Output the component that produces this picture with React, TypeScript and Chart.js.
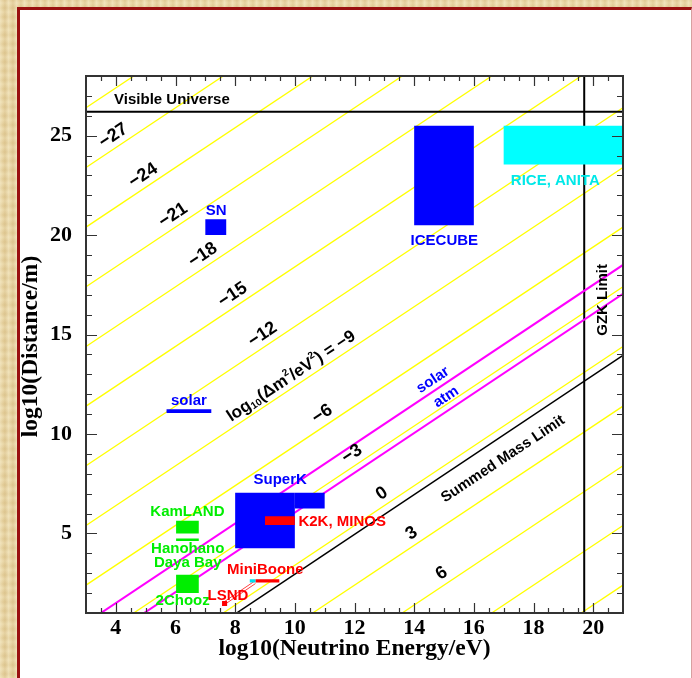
import React, { useEffect, useRef } from 'react';
import { Chart, registerables } from 'chart.js';

Chart.register(...registerables);

// ---------- axes ----------
const X_MIN = 3;
const X_MAX = 21;
const Y_MIN = 1;
const Y_MAX = 28;
const xLabelStep = 2;
const yLabelStep = 5;
const xTitle = 'log10(Neutrino Energy/eV)';
const yTitle = 'log10(Distance/m)';

// ---------- contour lines: log10(L) = log10(E) + offset ----------
const yellowOffsets = [23.4, 20.4, 17.4, 14.4, 11.4, 8.4, 5.4, 2.4, -0.6, -3.6, -6.6, -9.6, -12.6, -15.6, -18.6];
const solarOffset = -2.5;
const atmOffset = -3.95;
const massLimitOffset = -7.05;
const visibleUniverseL = 26.2;
const gzkLimitE = 19.7;

// ---------- Δm² contour labels ----------
const dm2Values = [-27, -24, -21, -18, -15, -12, -9, -6, -3, 0, 3, 6];
const dm2LabelE = [3.92, 4.92, 5.92, 6.92, 7.92, 8.92, 9.88, 10.92, 11.92, 12.92, 13.92, 14.92];
const dm2LabelL = [25.0, 23.0, 21.0, 19.0, 17.0, 15.0, 12.9, 11.0, 9.0, 7.0, 5.0, 3.0];

// ---------- experiment boxes ----------
const boxNames = ['SN', 'ICECUBE', 'RICE, ANITA', 'solar', 'SuperK', 'SuperK high', 'K2K, MINOS', 'KamLAND', 'Hanohano', '2Chooz', 'MiniBoone', 'MiniBoone low', 'LSND'];
const boxEMin = [7.0, 14.0, 17.0, 5.7, 8.0, 10.0, 9.0, 6.02, 6.02, 6.02, 8.68, 8.49, 7.56];
const boxEMax = [7.7, 16.0, 21.0, 7.2, 10.0, 11.0, 10.0, 6.78, 6.78, 6.78, 9.48, 8.68, 7.73];
const boxLMin = [20.0, 20.5, 23.55, 11.05, 4.25, 6.25, 5.42, 5.0, 4.62, 2.0, 2.53, 2.53, 1.35];
const boxLMax = [20.8, 25.5, 25.5, 11.25, 7.05, 7.05, 5.86, 5.64, 4.75, 2.92, 2.7, 2.7, 1.6];
const boxColors = ['#0000ff', '#0000ff', '#00ffff', '#0000ff', '#0000ff', '#0000ff', '#ff0000', '#00ee00', '#00ee00', '#00ee00', '#ff0000', '#00e0f0', '#ff0000'];

// LSND band (thin red lines)
const lsndBandE = [7.62, 8.68];
const lsndBandL = [1.45, 2.53];

// ---------- text annotations ----------
const annTexts = ['Visible Universe', 'SN', 'ICECUBE', 'RICE, ANITA', 'solar', 'SuperK', 'K2K, MINOS', 'KamLAND', 'Hanohano', 'Daya Bay', '2Chooz', 'MiniBoone', 'LSND', 'GZK Limit', 'Summed Mass Limit', 'solar', 'atm'];
const annE = [5.88, 7.36, 15.01, 18.73, 6.45, 9.51, 10.12, 6.40, 6.41, 6.41, 6.24, 9.01, 7.76, 20.33, 16.98, 14.63, 15.07];
const annL = [26.79, 21.21, 19.72, 22.74, 11.66, 7.69, 5.59, 6.11, 4.25, 3.53, 1.62, 3.16, 1.85, 16.74, 8.74, 12.71, 11.86];
const annColors = ['#000', '#0000ff', '#0000ff', '#00e8e8', '#0000ff', '#0000ff', '#ff0000', '#00ee00', '#00ee00', '#00ee00', '#00ee00', '#ff0000', '#ff0000', '#000', '#000', '#0000ff', '#0000ff'];
const annRot = ['h', 'h', 'h', 'h', 'h', 'h', 'h', 'h', 'h', 'h', 'h', 'h', 'h', 'v', 'd', 'd', 'd'];
const annAlign = ['center', 'center', 'center', 'center', 'center', 'center', 'left', 'center', 'center', 'center', 'center', 'center', 'center', 'center', 'center', 'center', 'center'];

const SANS = "'Liberation Sans', Arial, sans-serif";
const SERIF = "'Liberation Serif', 'Times New Roman', serif";

function lineData(offset: number) {
  return [
    { x: X_MIN, y: X_MIN + offset },
    { x: X_MAX, y: X_MAX + offset },
  ];
}

function boxData(i: number) {
  return [
    { x: boxEMin[i], y: boxLMin[i] },
    { x: boxEMax[i], y: boxLMin[i] },
    { x: boxEMax[i], y: boxLMax[i] },
    { x: boxEMin[i], y: boxLMax[i] },
    { x: boxEMin[i], y: boxLMin[i] },
  ];
}

const overlay = {
  id: 'overlay',
  afterDatasetsDraw(chart: any) {
    const { ctx, chartArea } = chart;
    const xs = chart.scales.x;
    const ys = chart.scales.y;
    const { left, right, top, bottom } = chartArea;
    const ang = Math.atan2(ys.getPixelForValue(1) - ys.getPixelForValue(0), xs.getPixelForValue(1) - xs.getPixelForValue(0));

    ctx.save();
    // frame
    ctx.strokeStyle = '#333';
    ctx.lineWidth = 2;
    ctx.strokeRect(left, top, right - left, bottom - top);

    // ticks (inward, all four sides)
    ctx.lineWidth = 1.2;
    ctx.strokeStyle = '#333';
    ctx.beginPath();
    for (let v = X_MIN; v <= X_MAX + 1e-9; v += 0.5) {
      if (v === X_MIN || v === X_MAX) continue;
      const px = Math.round(xs.getPixelForValue(v)) + 0.5;
      const len = Math.abs(v % 2) < 1e-9 ? 10 : 5;
      ctx.moveTo(px, bottom); ctx.lineTo(px, bottom - len);
      ctx.moveTo(px, top); ctx.lineTo(px, top + len);
    }
    for (let v = Y_MIN; v <= Y_MAX + 1e-9; v += 1) {
      if (v === Y_MIN || v === Y_MAX) continue;
      const py = Math.round(ys.getPixelForValue(v)) + 0.5;
      const len = v % 5 === 0 ? 11 : 6;
      ctx.moveTo(left, py); ctx.lineTo(left + len, py);
      ctx.moveTo(right, py); ctx.lineTo(right - len, py);
    }
    ctx.stroke();

    const drawText = (text: string, px: number, py: number, font: string, color: string, rot: number, align: string) => {
      ctx.save();
      ctx.translate(px, py);
      ctx.rotate(rot);
      ctx.font = font;
      ctx.fillStyle = color;
      ctx.textAlign = align;
      ctx.textBaseline = 'middle';
      ctx.fillText(text, 0, 0);
      ctx.restore();
    };

    // annotations
    for (let i = 0; i < annTexts.length; i++) {
      const px = xs.getPixelForValue(annE[i]);
      const py = ys.getPixelForValue(annL[i]);
      const rot = annRot[i] === 'v' ? -Math.PI / 2 : annRot[i] === 'd' ? ang : 0;
      drawText(annTexts[i], px, py, `bold 15px ${SANS}`, annColors[i], rot, annAlign[i]);
    }

    // Δm² labels
    for (let i = 0; i < dm2Values.length; i++) {
      const px = xs.getPixelForValue(dm2LabelE[i]);
      const py = ys.getPixelForValue(dm2LabelL[i]);
      const val = dm2Values[i] < 0 ? '\u2212' + Math.abs(dm2Values[i]) : String(dm2Values[i]);
      if (dm2Values[i] === -9) {
        // rich text: log10(Δm²/eV²) = −9
        const parts: [string, number, number][] = [
          ['log', 17, 0], ['10', 10, 4], ['(\u0394m', 17, 0], ['2', 10, -6], ['/eV', 17, 0], ['2', 10, -6], [') = ' + val, 17, 0],
        ];
        ctx.save();
        ctx.translate(px, py);
        ctx.rotate(ang);
        ctx.fillStyle = '#000';
        ctx.textBaseline = 'middle';
        ctx.textAlign = 'left';
        let w = 0;
        for (const p of parts) { ctx.font = `bold ${p[1]}px ${SANS}`; w += ctx.measureText(p[0]).width; }
        let x = -w / 2;
        for (const p of parts) {
          ctx.font = `bold ${p[1]}px ${SANS}`;
          ctx.fillText(p[0], x, p[2]);
          x += ctx.measureText(p[0]).width;
        }
        ctx.restore();
      } else {
        drawText(val, px, py, `bold 18px ${SANS}`, '#000', ang, 'center');
      }
    }

    // axis titles
    drawText(xTitle, (left + right) / 2, bottom + 36, `bold 23.5px ${SERIF}`, '#000', 0, 'center');
    drawText(yTitle, 31, (top + bottom) / 2 + 2, `bold 23.5px ${SERIF}`, '#000', -Math.PI / 2, 'center');
    ctx.restore();
  },
};

export default function App() {
  const ref = useRef<HTMLCanvasElement | null>(null);

  useEffect(() => {
    const canvas = ref.current;
    if (!canvas) return;
    const datasets: any[] = [];
    yellowOffsets.forEach((k) => {
      datasets.push({ data: lineData(k), borderColor: '#ffff00', borderWidth: 1.3, pointRadius: 0, fill: false, order: 20 });
    });
    datasets.push({ data: lineData(solarOffset), borderColor: '#ff00ff', borderWidth: 2, pointRadius: 0, fill: false, order: 15 });
    datasets.push({ data: lineData(atmOffset), borderColor: '#ff00ff', borderWidth: 2, pointRadius: 0, fill: false, order: 15 });
    datasets.push({ data: lineData(massLimitOffset), borderColor: '#000', borderWidth: 1.5, pointRadius: 0, fill: false, order: 15 });
    datasets.push({ data: [{ x: X_MIN, y: visibleUniverseL }, { x: X_MAX, y: visibleUniverseL }], borderColor: '#000', borderWidth: 2, pointRadius: 0, fill: false, order: 15 });
    datasets.push({ data: [{ x: gzkLimitE, y: Y_MIN }, { x: gzkLimitE, y: Y_MAX }], borderColor: '#000', borderWidth: 2, pointRadius: 0, fill: false, order: 15 });
    datasets.push({ data: [{ x: lsndBandE[0], y: lsndBandL[0] - 0.05 }, { x: lsndBandE[1], y: lsndBandL[1] - 0.05 }], borderColor: '#ff4040', borderWidth: 1, pointRadius: 0, fill: false, order: 12 });
    datasets.push({ data: [{ x: lsndBandE[0] - 0.05, y: lsndBandL[0] + 0.05 }, { x: lsndBandE[1] - 0.05, y: lsndBandL[1] + 0.05 }], borderColor: '#ff4040', borderWidth: 1, pointRadius: 0, fill: false, order: 12 });
    boxNames.forEach((name, i) => {
      // later boxes get a lower order so they are drawn on top
      datasets.push({ label: name, data: boxData(i), borderColor: boxColors[i], backgroundColor: boxColors[i], borderWidth: 0, pointRadius: 0, fill: 'shape', order: 5 + (boxNames.length - i) * 0.01 });
    });

    const tickFont = { family: SERIF, size: 22, weight: 'bold' as const };
    const chart = new Chart(canvas, {
      type: 'line',
      data: { datasets },
      options: {
        animation: false,
        responsive: false,
        devicePixelRatio: 1,
        layout: { padding: { left: 0, right: 69, top: 76, bottom: 0 } },
        plugins: { legend: { display: false }, tooltip: { enabled: false } },
        elements: { line: { tension: 0 }, point: { radius: 0 } },
        scales: {
          x: {
            type: 'linear',
            min: X_MIN,
            max: X_MAX,
            grid: { display: false, drawTicks: false },
            border: { display: false },
            ticks: {
              stepSize: 1,
              font: tickFont,
              color: '#000',
              padding: 2,
              maxRotation: 0,
              autoSkip: false,
              callback: (v: any) => (Number(v) % xLabelStep === 0 ? String(v) : ''),
            },
            afterFit: (s: any) => { s.height = 65; },
          },
          y: {
            type: 'linear',
            min: Y_MIN,
            max: Y_MAX,
            grid: { display: false, drawTicks: false },
            border: { display: false },
            ticks: {
              stepSize: 1,
              font: tickFont,
              color: '#000',
              padding: 14,
              autoSkip: false,
              callback: (v: any) => (Number(v) % yLabelStep === 0 ? String(v) : ''),
            },
            afterFit: (s: any) => { s.width = 86; },
          },
        },
      } as any,
      plugins: [overlay],
    });
    return () => chart.destroy();
  }, []);

  return (
    <div
      style={{
        position: 'fixed',
        left: 0,
        top: 0,
        width: 692,
        height: 678,
        overflow: 'hidden',
        backgroundColor: '#e8d3a0',
        backgroundImage:
          'repeating-linear-gradient(90deg, rgba(255,250,225,0.35) 0px, rgba(255,250,225,0.0) 3px, rgba(160,120,50,0.10) 5px, rgba(255,250,225,0.2) 8px), repeating-linear-gradient(0deg, rgba(255,255,240,0.15) 0px, rgba(150,110,40,0.08) 4px, rgba(255,255,240,0.15) 9px)',
      }}
    >
      <div
        style={{
          position: 'absolute',
          left: 17,
          top: 7,
          width: 671,
          height: 700,
          background: '#ffffff',
          borderTop: '3px solid #9a1010',
          borderLeft: '3px solid #9a1010',
          borderRight: '1px solid #d8a0a0',
        }}
      />
      <canvas ref={ref} width={692} height={678} style={{ position: 'absolute', left: 0, top: 0, width: 692, height: 678 }} />
    </div>
  );
}
